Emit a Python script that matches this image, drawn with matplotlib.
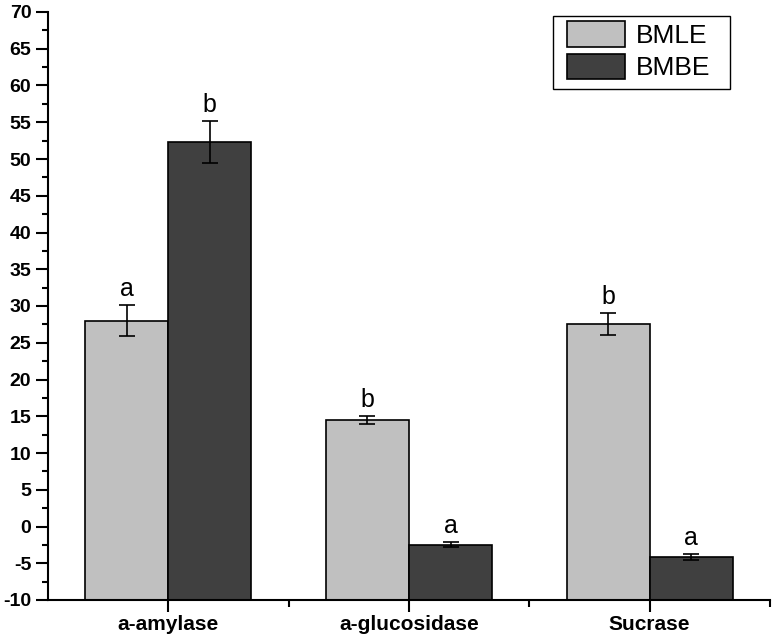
import matplotlib.pyplot as plt
import numpy as np
from matplotlib.patches import Rectangle
from matplotlib.ticker import MultipleLocator

# values
categories = ['a-amylase', 'a-glucosidase', 'Sucrase']
bmle = [28.0, 14.5, 27.5]
bmle_err = [2.1, 0.5, 1.5]
bmbe = [52.3, -2.5, -4.15]
bmbe_err = [2.9, 0.35, 0.35]
bmle_letters = ['a', 'b', 'b']
bmbe_letters = ['b', 'a', 'a']

plt.rcParams['font.family'] = ['Liberation Sans', 'DejaVu Sans']
plt.rcParams['axes.unicode_minus'] = False

fig = plt.figure(figsize=(7.76, 6.4), dpi=100)
ax = fig.add_axes([48 / 776, 40 / 640, 722 / 776, 588 / 640])

x = np.arange(len(categories))
width = 0.345
base = -10

# bars grow from the bottom of the axis (-10)
ax.bar(x - width, np.array(bmle) - base, width, bottom=base, align='edge',
       color='#c0c0c0', edgecolor='black', linewidth=1.2, label='BMLE', zorder=2)
ax.bar(x, np.array(bmbe) - base, width, bottom=base, align='edge',
       color='#404040', edgecolor='black', linewidth=1.2, label='BMBE', zorder=2)

ax.errorbar(x - width / 2, bmle, yerr=bmle_err, fmt='none', ecolor='black',
            elinewidth=1.2, capsize=6, capthick=1.2, zorder=3)
ax.errorbar(x + width / 2, bmbe, yerr=bmbe_err, fmt='none', ecolor='black',
            elinewidth=1.2, capsize=6, capthick=1.2, zorder=3)

# significance letters
for i in range(len(categories)):
    ax.annotate(bmle_letters[i], (x[i] - width / 2, bmle[i] + bmle_err[i]),
                xytext=(0, 3), textcoords='offset points', ha='center', va='bottom', fontsize=18)
    ax.annotate(bmbe_letters[i], (x[i] + width / 2, bmbe[i] + bmbe_err[i]),
                xytext=(0, 3), textcoords='offset points', ha='center', va='bottom', fontsize=18)

ax.set_xlim(-0.5, 2.5)
ax.set_ylim(-10, 70)
ax.set_xticks(x)
ax.set_xticklabels(categories, fontsize=15, fontweight='bold')
ax.set_xticks([0.5, 1.5, 2.5], minor=True)
ax.yaxis.set_major_locator(MultipleLocator(5))
ax.yaxis.set_minor_locator(MultipleLocator(2.5))
for lab in ax.get_yticklabels():
    lab.set_fontweight('bold')
    lab.set_fontsize(14)

ax.spines['top'].set_visible(False)
ax.spines['right'].set_visible(False)
ax.spines['left'].set_linewidth(1.5)
ax.spines['bottom'].set_linewidth(1.5)
ax.tick_params(axis='y', which='major', length=9, width=1.5, direction='out', pad=3)
ax.tick_params(axis='y', which='minor', length=4.5, width=1.5, direction='out')
ax.tick_params(axis='x', which='major', length=8.5, width=1.5, pad=2)
ax.tick_params(axis='x', which='minor', length=5, width=1.5)

# legend without frame, box drawn separately (wider padding left/right than top/bottom)
leg = ax.legend(loc='upper left', bbox_to_anchor=(567 / 776, 1 - 21 / 640),
                bbox_transform=fig.transFigure, fontsize=19, frameon=False,
                handlelength=2.2, handleheight=1.12, borderpad=0,
                labelspacing=0.22, handletextpad=0.4, borderaxespad=0)
leg.set_zorder(6)
box = Rectangle((553 / 776, 1 - 89 / 640), 177 / 776, 73 / 640,
                transform=fig.transFigure, facecolor='white',
                edgecolor='black', linewidth=1.0, zorder=5, clip_on=False)
ax.add_patch(box)

fig.savefig('out.png', dpi=100)
